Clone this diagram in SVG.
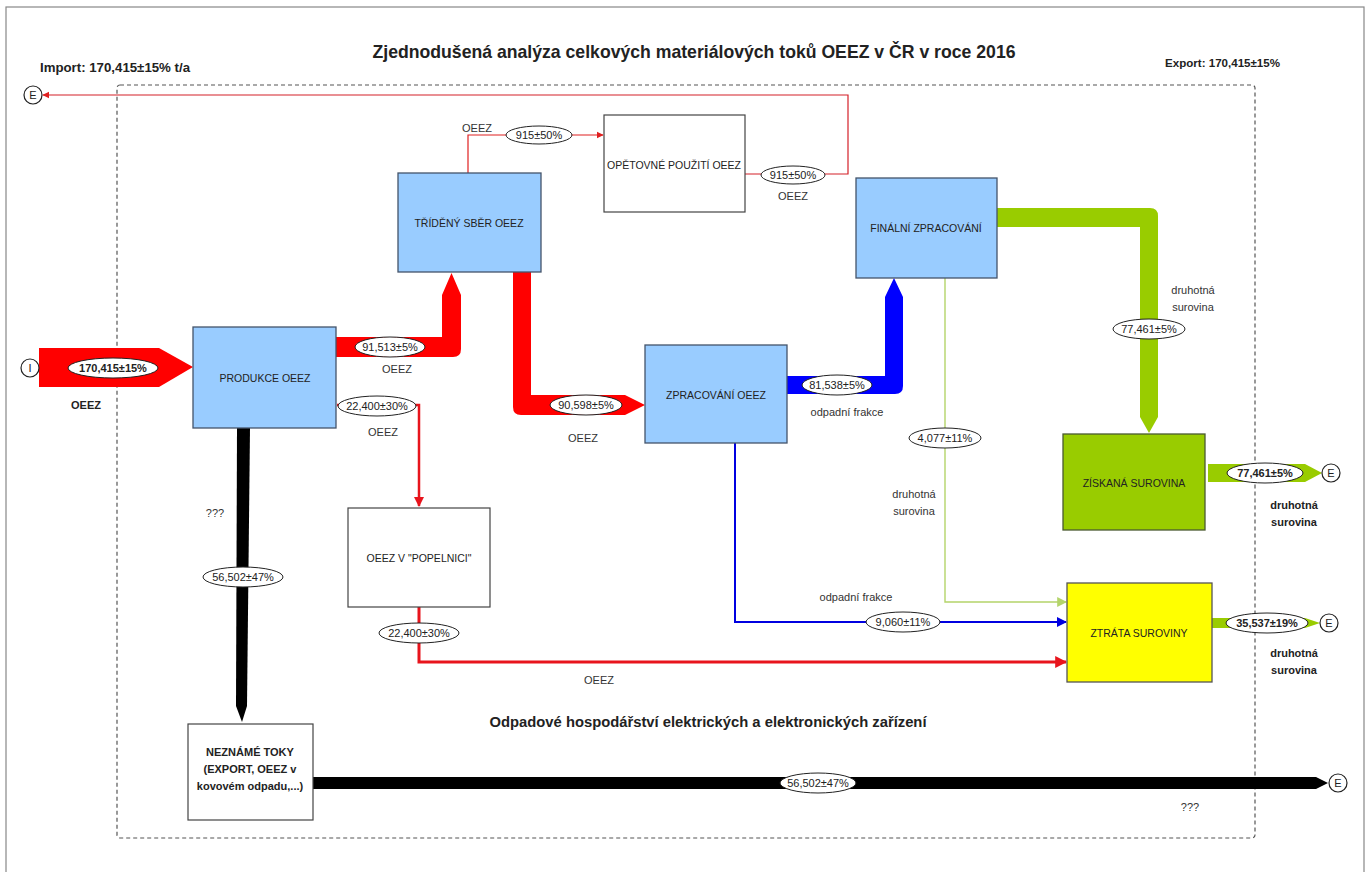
<svg xmlns="http://www.w3.org/2000/svg" width="1370" height="872" viewBox="0 0 1370 872">
<defs>
<style>
text{font-family:"Liberation Sans",Arial,sans-serif;fill:#222;}
.t{font-size:11px;text-anchor:middle;}
.tb{font-size:11px;font-weight:bold;text-anchor:middle;}
.nl{font-size:10.5px;text-anchor:middle;}
.lab{font-size:11px;text-anchor:middle;fill:#333;}
.ell{fill:#fff;stroke:#222;stroke-width:1;}
.blue{fill:#99CCFF;stroke:#44546A;stroke-width:1.3;}
.white{fill:#fff;stroke:#444;stroke-width:1.2;}
.circ{fill:#fff;stroke:#222;stroke-width:1.2;}
</style>
<marker id="ar" viewBox="0 0 10 10" refX="9" refY="5" markerWidth="4" markerHeight="4" orient="auto"><path d="M0,0 L10,5 L0,10 Z" fill="#E8141C"/></marker>
<marker id="ab" viewBox="0 0 10 10" refX="9" refY="5" markerWidth="5" markerHeight="5" orient="auto"><path d="M0,0 L10,5 L0,10 Z" fill="#0000E0"/></marker>
<marker id="ag" viewBox="0 0 10 10" refX="9" refY="5" markerWidth="7" markerHeight="7" orient="auto"><path d="M0,0 L10,5 L0,10 Z" fill="#B4D46A"/></marker>
<marker id="ar2" viewBox="0 0 10 10" refX="9" refY="5" markerWidth="6" markerHeight="6" orient="auto"><path d="M0,0 L10,5 L0,10 Z" fill="#E02020"/></marker>
</defs>
<rect x="0" y="0" width="1370" height="872" fill="#fff"/>
<rect x="6" y="7" width="1358" height="880" fill="none" stroke="#888" stroke-width="1.2"/>
<rect x="117" y="85" width="1138" height="753" rx="3" fill="none" stroke="#555" stroke-width="1.2" stroke-dasharray="4,3"/>

<text x="694" y="58" style="font-size:18.5px;font-weight:bold;text-anchor:middle" textLength="643" lengthAdjust="spacingAndGlyphs">Zjednodušená analýza celkových materiálových toků OEEZ v ČR v roce 2016</text>
<text x="40" y="72" style="font-size:12px;font-weight:bold" textLength="150" lengthAdjust="spacingAndGlyphs">Import: 170,415±15% t/a</text>
<text x="1165" y="67" style="font-size:11.5px;font-weight:bold" textLength="115" lengthAdjust="spacingAndGlyphs">Export: 170,415±15%</text>
<text x="708" y="727" style="font-size:14px;font-weight:bold;text-anchor:middle" textLength="437" lengthAdjust="spacingAndGlyphs">Odpadové hospodářství elektrických a elektronických zařízení</text>

<g id="connectors">
  <path d="M39,348 H159 L193,367 L159,387 H39 Z" fill="#FF0000"/>
  <path d="M336,337 H442 V295 L451.5,273 L461,295 V349 Q461,357 453,357 H336 Z" fill="#FF0000"/>
  <path d="M513,272 H531 V395 H625 L645,405 L625,415 H521 Q513,415 513,407 Z" fill="#FF0000"/>
  <path d="M787,376 H885 V297 L894,278 L903,297 V386 Q903,394 895,394 H787 Z" fill="#0000FF"/>
  <path d="M997,208 H1150 Q1158,208 1158,216 V417 L1149,433 L1140,417 V227 H997 Z" fill="#99CC00"/>
  <path d="M1208,464 H1305 L1322,473 L1305,482 H1208 Z" fill="#99CC00"/>
  <path d="M1212,618 H1305 L1320,623 L1305,628 H1212 Z" fill="#99CC00"/>
  <path d="M237,428 L250,428 L247,706 L242,722 L236,706 Z" fill="#000"/>
  <path d="M313,777 H1316 L1328,783 L1316,789 H313 Z" fill="#000"/>
  <path d="M337,405 H419 V506" fill="none" stroke="#E8141C" stroke-width="2.5" marker-end="url(#ar)"/>
  <path d="M419,607 V662 H1066" fill="none" stroke="#E8141C" stroke-width="3" marker-end="url(#ar)"/>
  <path d="M735,443 V622 H1066" fill="none" stroke="#0000E0" stroke-width="2" marker-end="url(#ab)"/>
  <path d="M945,278 V602 H1066" fill="none" stroke="#B4D46A" stroke-width="1.4" marker-end="url(#ag)"/>
  <path d="M468,173 V135 H603" fill="none" stroke="#E02020" stroke-width="1.2" marker-end="url(#ar2)"/>
  <path d="M745,174 H848 V95 H43" fill="none" stroke="#D42028" stroke-width="1.2" marker-end="url(#ar2)"/>

  <ellipse class="ell" cx="113" cy="368" rx="45" ry="10"/>
  <text class="tb" x="113" y="372">170,415±15%</text>
  <text class="tb" x="86" y="409">OEEZ</text>

  <ellipse class="ell" cx="390" cy="347" rx="35" ry="10"/>
  <text class="t" x="390" y="351">91,513±5%</text>
  <text class="lab" x="397" y="373">OEEZ</text>

  <ellipse class="ell" cx="586" cy="405" rx="36" ry="10"/>
  <text class="t" x="586" y="409">90,598±5%</text>
  <text class="lab" x="583" y="442">OEEZ</text>

  <ellipse class="ell" cx="837" cy="385" rx="35" ry="10"/>
  <text class="t" x="837" y="389">81,538±5%</text>
  <text class="lab" x="847" y="416">odpadní frakce</text>

  <ellipse class="ell" cx="1149" cy="329" rx="36" ry="10"/>
  <text class="t" x="1149" y="333">77,461±5%</text>
  <text class="lab" x="1193" y="294">druhotná</text>
  <text class="lab" x="1193" y="311">surovina</text>

  <ellipse class="ell" cx="1265" cy="473" rx="38" ry="10"/>
  <text class="tb" x="1265" y="477">77,461±5%</text>
  <text class="tb" x="1294" y="509">druhotná</text>
  <text class="tb" x="1294" y="526">surovina</text>

  <ellipse class="ell" cx="1267" cy="623" rx="41" ry="10"/>
  <text class="tb" x="1267" y="627">35,537±19%</text>
  <text class="tb" x="1294" y="657">druhotná</text>
  <text class="tb" x="1294" y="674">surovina</text>

  <ellipse class="ell" cx="243" cy="577" rx="40" ry="10"/>
  <text class="t" x="243" y="581">56,502±47%</text>
  <text class="lab" x="215" y="517">???</text>

  <ellipse class="ell" cx="818" cy="783" rx="38" ry="10"/>
  <text class="t" x="818" y="787">56,502±47%</text>
  <text class="lab" x="1190" y="811">???</text>

  <ellipse class="ell" cx="377" cy="406" rx="39" ry="10"/>
  <text class="t" x="377" y="410">22,400±30%</text>
  <text class="lab" x="383" y="436">OEEZ</text>

  <ellipse class="ell" cx="419" cy="633" rx="40" ry="10"/>
  <text class="t" x="419" y="637">22,400±30%</text>
  <text class="lab" x="599" y="684">OEEZ</text>

  <ellipse class="ell" cx="903" cy="622" rx="37" ry="10"/>
  <text class="t" x="903" y="626">9,060±11%</text>
  <text class="lab" x="856" y="601">odpadní frakce</text>

  <ellipse class="ell" cx="945" cy="438" rx="36" ry="10"/>
  <text class="t" x="945" y="442">4,077±11%</text>
  <text class="lab" x="914" y="498">druhotná</text>
  <text class="lab" x="914" y="515">surovina</text>

  <ellipse class="ell" cx="539" cy="135" rx="33" ry="9"/>
  <text class="t" x="539" y="139">915±50%</text>
  <text class="lab" x="477" y="132">OEEZ</text>

  <ellipse class="ell" cx="793" cy="175" rx="32" ry="9"/>
  <text class="t" x="793" y="179">915±50%</text>
  <text class="lab" x="793" y="200">OEEZ</text>
</g>

<g id="I-in"><circle class="circ" cx="30" cy="368" r="9"/><text class="t" x="30" y="372">I</text></g>
<g id="E-top"><circle class="circ" cx="33" cy="95" r="9"/><text class="t" x="33" y="99">E</text></g>
<g id="E-ziskana"><circle class="circ" cx="1331" cy="473" r="9"/><text class="t" x="1331" y="477">E</text></g>
<g id="E-ztrata"><circle class="circ" cx="1329" cy="623" r="9"/><text class="t" x="1329" y="627">E</text></g>
<g id="E-nezname"><circle class="circ" cx="1338" cy="783" r="9"/><text class="t" x="1338" y="787">E</text></g>

<g id="trideny"><rect class="blue" x="398" y="173" width="143" height="99"/><text class="nl" x="469" y="227">TŘÍDĚNÝ SBĚR OEEZ</text></g>
<g id="opetovne"><rect class="white" x="604" y="115" width="141" height="97"/><text class="nl" x="674" y="169">OPĚTOVNÉ POUŽITÍ OEEZ</text></g>
<g id="finalni"><rect class="blue" x="856" y="178" width="141" height="100"/><text class="nl" x="926" y="232">FINÁLNÍ ZPRACOVÁNÍ</text></g>
<g id="produkce"><rect class="blue" x="193" y="327" width="143" height="101"/><text class="nl" x="265" y="382">PRODUKCE OEEZ</text></g>
<g id="zpracovani"><rect class="blue" x="645" y="345" width="142" height="98"/><text class="nl" x="716" y="399">ZPRACOVÁNÍ OEEZ</text></g>
<g id="ziskana"><rect x="1063" y="434" width="142" height="96" fill="#99CC00" stroke="#4A5A30" stroke-width="1.3"/><text class="nl" x="1134" y="487">ZÍSKANÁ SUROVINA</text></g>
<g id="ztrata"><rect x="1067" y="583" width="145" height="99" fill="#FFFF00" stroke="#555" stroke-width="1.3"/><text class="nl" x="1139" y="637">ZTRÁTA SUROVINY</text></g>
<g id="popelnice"><rect class="white" x="348" y="508" width="142" height="99"/><text class="nl" x="419" y="562">OEEZ V "POPELNICI"</text></g>
<g id="nezname"><rect class="white" x="188" y="724" width="125" height="96"/>
<text class="tb" style="font-size:11px" x="250" y="756">NEZNÁMÉ TOKY</text>
<text class="tb" style="font-size:11px" x="250" y="773">(EXPORT, OEEZ v</text>
<text class="tb" style="font-size:11px" x="250" y="790">kovovém odpadu,...)</text></g>
</svg>
